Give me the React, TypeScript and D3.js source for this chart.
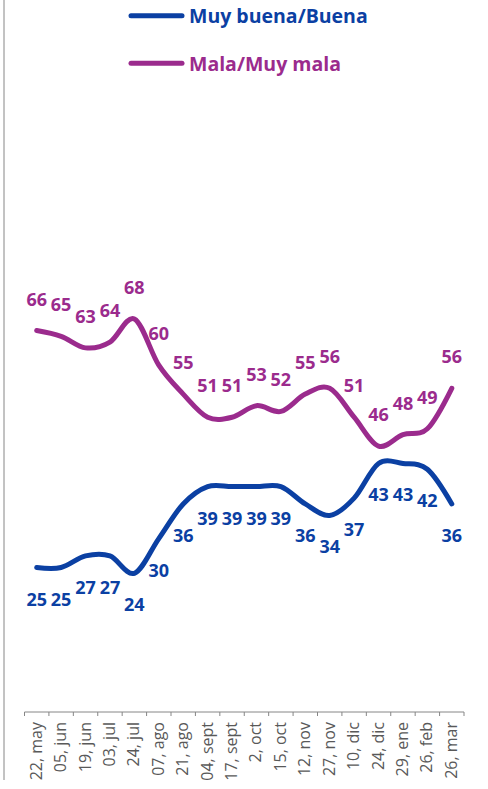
import React from "react";
import * as d3 from "d3";

const categories = [
  "22, may", "05, jun", "19, jun", "03, jul", "24, jul", "07, ago", "21, ago",
  "04, sept", "17, sept", "2, oct", "15, oct", "12, nov", "27, nov", "10, dic",
  "24, dic", "29, ene", "26, feb", "26, mar",
];
const buena = [25, 25, 27, 27, 24, 30, 36, 39, 39, 39, 39, 36, 34, 37, 43, 43, 42, 36];
const mala = [66, 65, 63, 64, 68, 60, 55, 51, 51, 53, 52, 55, 56, 51, 46, 48, 49, 56];
const seriesNames = ["Muy buena/Buena", "Mala/Muy mala"];

const W = 488;
const H = 789;
const BLUE = "#0B40A3";
const PURPLE = "#9B2B8D";
const AXIS = "#868686";
const FONT = "'Open Sans', 'Noto Sans', sans-serif";

export default function App() {
  const x = d3.scaleBand<string>().domain(categories).range([24.5, 464]);
  const y = d3.scaleLinear().domain([0, 100]).range([712, 134]);
  const cx = (i: number) => (x(categories[i]) as number) + x.bandwidth() / 2;

  const line = d3
    .line<number>()
    .x((_, i) => cx(i))
    .y((d) => y(d))
    .curve(d3.curveCardinal.tension(0));

  const ticks = [...categories.map((c) => x(c) as number), 464];

  return (
    <svg
      width={W}
      height={H}
      style={{ position: "absolute", left: 0, top: 0, background: "#fff" }}
      fontFamily={FONT}
    >
      <rect width={W} height={H} fill="#fff" />
      <line x1={4} x2={4} y1={0} y2={780} stroke={AXIS} strokeWidth={1} />

      {/* legend */}
      <g>
        <line x1={131} x2={182} y1={15.7} y2={15.7} stroke={BLUE} strokeWidth={5} strokeLinecap="round" />
        <text x={189} y={23} fill={BLUE} fontSize={19.5} fontWeight={700}>{seriesNames[0]}</text>
        <line x1={131} x2={182} y1={63.3} y2={63.3} stroke={PURPLE} strokeWidth={5} strokeLinecap="round" />
        <text x={189} y={70.5} fill={PURPLE} fontSize={19.5} fontWeight={700}>{seriesNames[1]}</text>
      </g>

      {/* axis */}
      <line x1={24.5} x2={464} y1={712} y2={712} stroke={AXIS} strokeWidth={1} />
      {ticks.map((t, i) => (
        <line key={i} x1={t} x2={t} y1={712} y2={716} stroke={AXIS} strokeWidth={1} />
      ))}
      {categories.map((c, i) => (
        <text
          key={c}
          transform={`translate(${cx(i) + 5},${722}) rotate(-90)`}
          textAnchor="end"
          fontSize={16}
          fill="#595959"
        >
          {c}
        </text>
      ))}

      {/* lines */}
      <path d={line(mala) as string} fill="none" stroke={PURPLE} strokeWidth={5} strokeLinecap="round" strokeLinejoin="round" />
      <path d={line(buena) as string} fill="none" stroke={BLUE} strokeWidth={5} strokeLinecap="round" strokeLinejoin="round" />

      {/* labels */}
      {mala.map((v, i) => (
        <text key={"m" + i} x={cx(i)} y={y(v) - 25} textAnchor="middle" fontSize={18} fontWeight={700} fill={PURPLE}>
          {v}
        </text>
      ))}
      {buena.map((v, i) => (
        <text key={"b" + i} x={cx(i)} y={y(v) + 38} textAnchor="middle" fontSize={18} fontWeight={700} fill={BLUE}>
          {v}
        </text>
      ))}
    </svg>
  );
}
